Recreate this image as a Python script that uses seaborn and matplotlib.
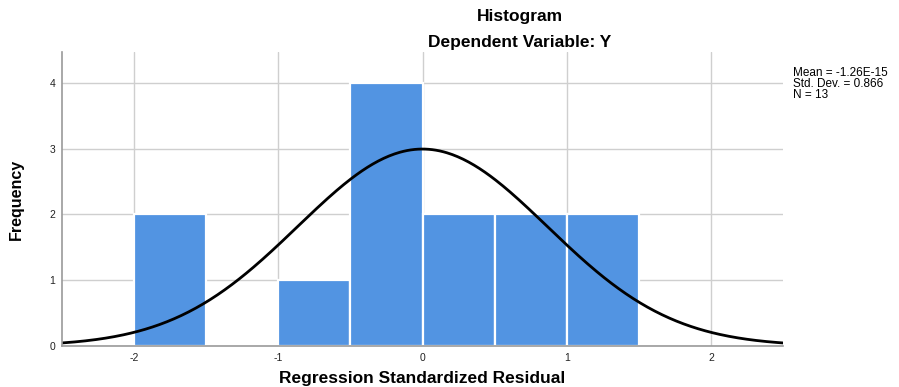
import numpy as np
import pandas as pd
import matplotlib
matplotlib.use("Agg")
import matplotlib.pyplot as plt
import seaborn as sns

# Data
bin_edges = [-2.0, -1.5, -1.0, -0.5, 0.0, 0.5, 1.0, 1.5]
bin_counts = [2, 0, 1, 4, 2, 2, 2]
mean_val = -1.26e-15
std_val = 0.866
n_val = 13
x_ticks = [-2, -1, 0, 1, 2]
y_ticks = [0, 1, 2, 3, 4]

sns.set_theme(style="white")
plt.rcParams['font.family'] = ['Liberation Sans', 'DejaVu Sans']
plt.rcParams['text.color'] = 'black'
plt.rcParams['axes.labelcolor'] = 'black'

fig = plt.figure(figsize=(8.99, 3.87), dpi=100)
ax = fig.add_axes([62/899, 1-346/387, (783-62)/899, (346-52)/387])

centers = [(a + b) / 2 for a, b in zip(bin_edges[:-1], bin_edges[1:])]
df = pd.DataFrame({"x": centers, "w": bin_counts})
sns.histplot(data=df, x="x", weights="w", bins=bin_edges, ax=ax,
             color="#5294e2", alpha=1.0, edgecolor="white", linewidth=1.6, zorder=2)

# Normal curve from the reported mean / sd / N
bw = bin_edges[1] - bin_edges[0]
xs = np.linspace(-2.5, 2.5, 400)
ys = n_val * bw * np.exp(-0.5 * ((xs - mean_val) / std_val) ** 2) / (std_val * np.sqrt(2 * np.pi))
sns.lineplot(x=xs, y=ys, ax=ax, color="black", linewidth=2.0, zorder=3)

ax.set_xlim(-2.5, 2.5)
ax.set_ylim(0, 4.47)
ax.set_xticks(x_ticks)
ax.set_xticklabels([str(t) for t in x_ticks])
ax.set_yticks(y_ticks)
ax.set_yticklabels([str(t) for t in y_ticks])
ax.tick_params(axis="both", length=0, labelsize=7.5, colors="#222222", pad=5)
ax.grid(True, color="#cfcfcf", linewidth=1.0, zorder=0)
ax.set_axisbelow(True)
for s in ["top", "right"]:
    ax.spines[s].set_visible(False)
for s in ["left", "bottom"]:
    ax.spines[s].set_color("#9a9a9a")
    ax.spines[s].set_linewidth(1.2)
    ax.spines[s].set_zorder(4)

ax.set_xlabel("Regression Standardized Residual", fontsize=12.5, fontweight="bold", labelpad=6)
ax.set_ylabel("Frequency", fontsize=11.5, fontweight="bold", labelpad=18)

fig.text(0.578, 1-17/387, "Histogram", ha="center", va="center", fontsize=12.5, fontweight="bold")
fig.text(0.578, 1-43/387, "Dependent Variable: Y", ha="center", va="center", fontsize=12.5, fontweight="bold")

fig.text(793/899, 1-67/387, "Mean = -1.26E-15\nStd. Dev. = 0.866\nN = 13", ha="left", va="top",
         fontsize=8.5, linespacing=0.9)

fig.savefig("out.png", dpi=100, facecolor="white")
